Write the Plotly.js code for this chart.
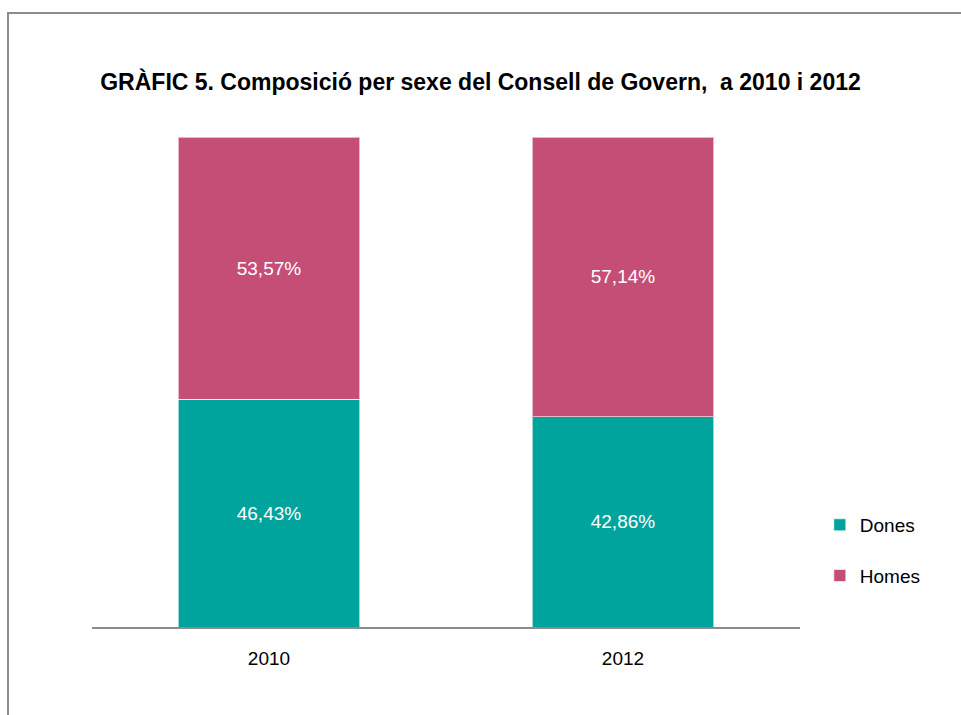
<!DOCTYPE html>
<html>
<head>
<meta charset="utf-8">
<script src="https://cdn.plot.ly/plotly-3.0.1.min.js"></script>
<style>
  html, body { margin: 0; padding: 0; background: #fff; }
  #frame { position: absolute; left: 7px; top: 12px; width: 960px; height: 710px;
           border-left: 2px solid #8c8c8c; border-top: 2px solid #8c8c8c; }
  #chart { position: absolute; left: 0; top: 0; width: 961px; height: 715px; }
</style>
</head>
<body>
<div id="frame"></div>
<div id="chart"></div>
<script>
const years = ['2010', '2012'];
const dones = [46.43, 42.86];
const homes = [53.57, 57.14];
const seriesNames = ['Dones', 'Homes'];
const colors = ['#00A49D', '#C54E77'];
const titleText = 'GRÀFIC 5. Composició per sexe del Consell de Govern,  a 2010 i 2012';

const FONT = '"Liberation Sans Narrow", "Arial Narrow", "Liberation Sans", Arial, sans-serif';

const traces = [dones, homes].map((vals, i) => ({
  type: 'bar',
  x: years,
  y: vals,
  name: seriesNames[i],
  legendgroup: seriesNames[i],
  marker: { color: colors[i], line: { color: 'rgba(255,255,255,0.6)', width: 1 } },
  texttemplate: '%{y:.2f}%',
  textposition: 'inside',
  insidetextanchor: 'middle',
  textfont: { family: FONT, size: 19, color: '#ffffff' },
  hoverinfo: 'x+y+name'
}));

const layout = {
  width: 961,
  height: 715,
  barmode: 'stack',
  bargap: 0.486,
  separators: ', ',
  paper_bgcolor: 'rgba(0,0,0,0)',
  plot_bgcolor: 'rgba(0,0,0,0)',
  margin: { l: 92, r: 161, t: 137, b: 88, autoexpand: false },
  font: { family: FONT, color: '#000' },
  title: {
    text: '<b>' + titleText + '</b>',
    font: { family: FONT, size: 23, color: '#000' },
    x: 0.5, xref: 'container', xanchor: 'center',
    y: 1 - 82 / 715, yref: 'container', yanchor: 'middle'
  },
  xaxis: {
    type: 'category',
    showline: true,
    linecolor: '#8c8c8c',
    linewidth: 2,
    ticks: '',
    showgrid: false,
    tickfont: { family: FONT, size: 19, color: '#000' },
    ticklabelstandoff: 13
  },
  yaxis: {
    range: [0, 100],
    visible: false,
    showgrid: false,
    zeroline: false
  },
  legend: {
    x: 1.028, xanchor: 'left',
    y: 0.247, yanchor: 'top',
    traceorder: 'grouped',
    tracegroupgap: 23,
    font: { family: FONT, size: 19, color: '#000' },
    itemwidth: 30,
    bgcolor: 'rgba(0,0,0,0)'
  },
  showlegend: true
};

Plotly.newPlot('chart', traces, layout, { displayModeBar: false, staticPlot: true });
</script>
</body>
</html>
